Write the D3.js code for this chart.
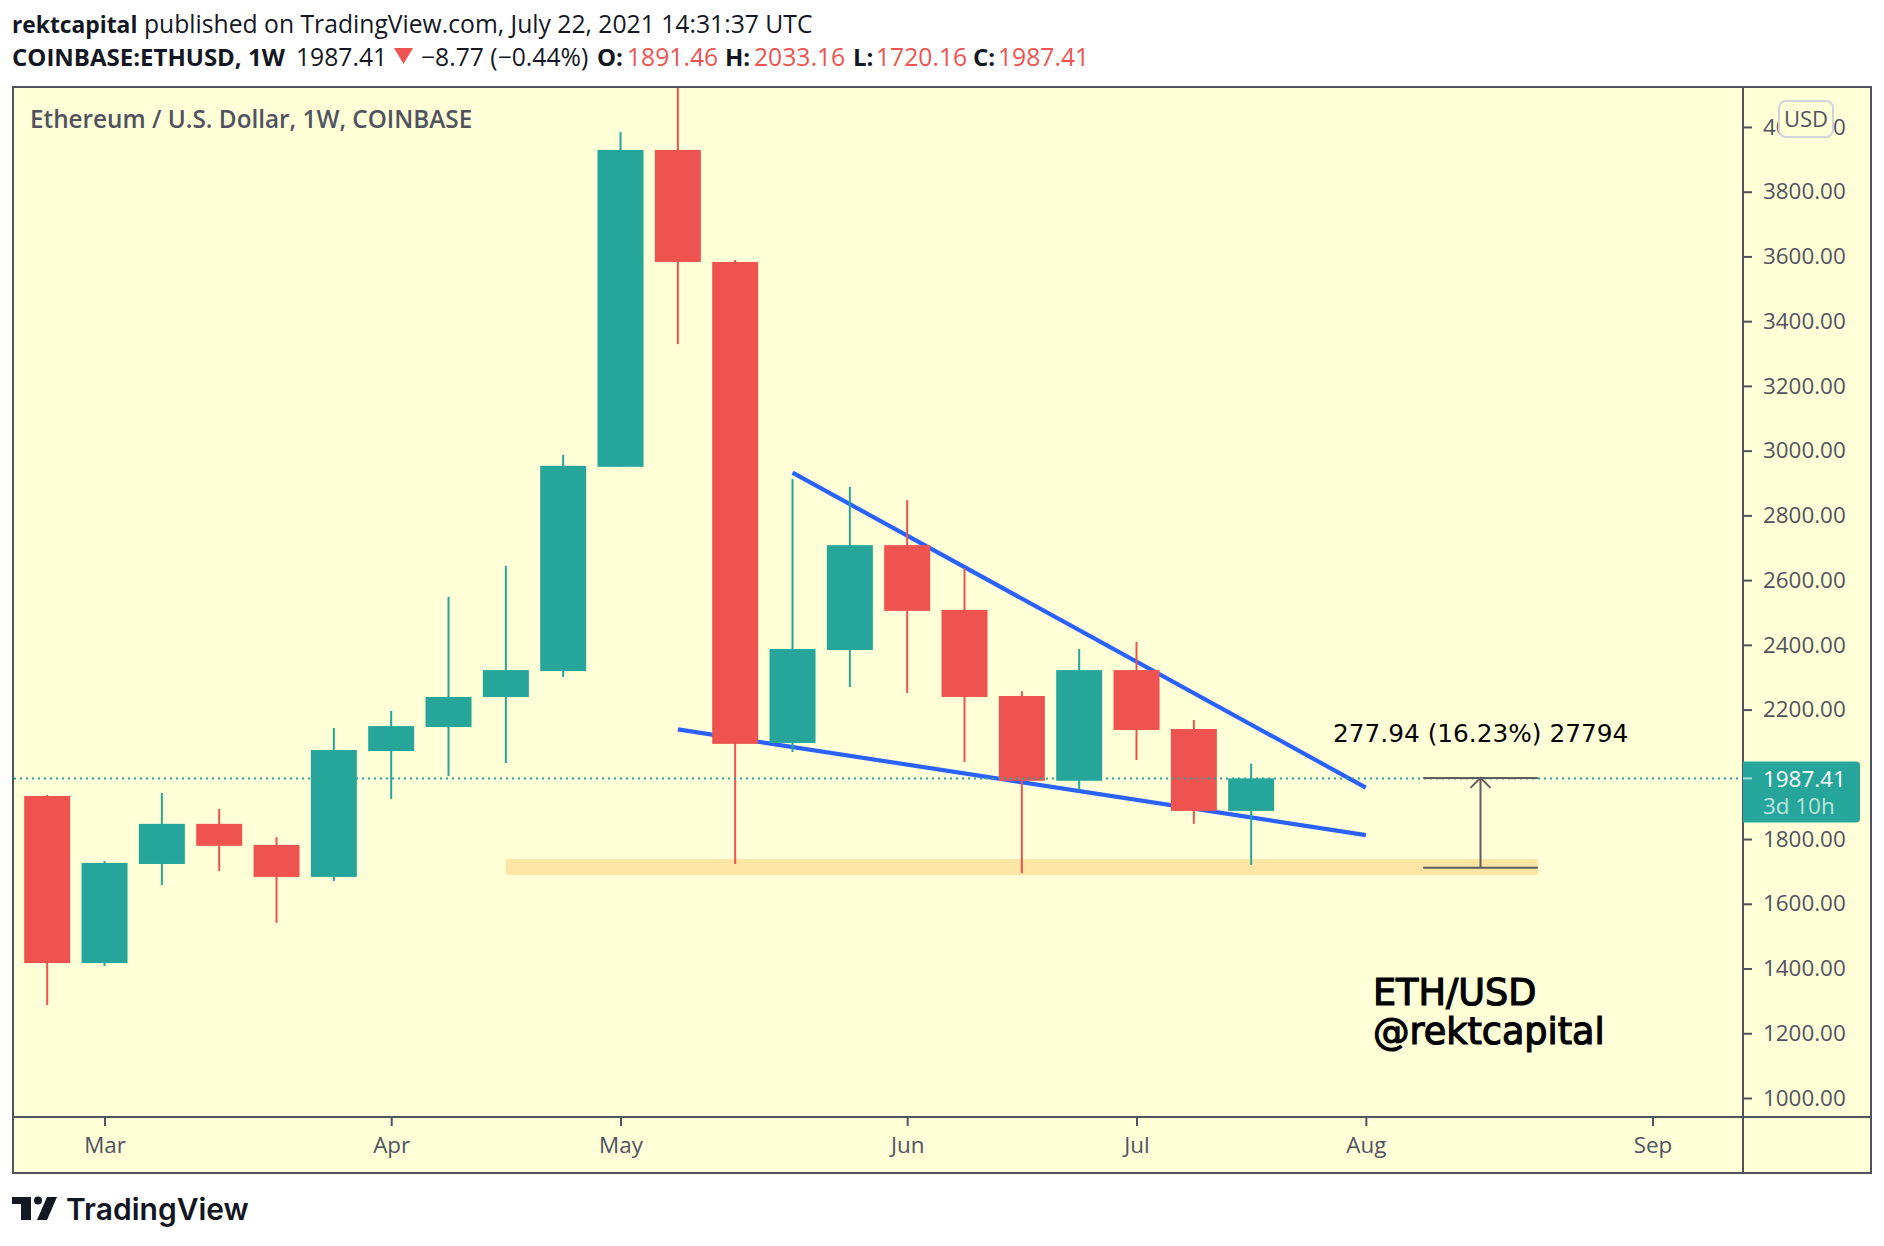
<!DOCTYPE html>
<html>
<head>
<meta charset="utf-8">
<title>ETHUSD 1W</title>
<script src="https://cdn.jsdelivr.net/npm/d3@7"></script>
<style>
    html, body { margin: 0; padding: 0; background: #fff; }
    svg { display: block; }
    text { font-family: "Open Sans", sans-serif; }
    .axis text { font-size: 22.4px; fill: #50535e; }
    .axis line { stroke: #50535e; stroke-width: 2; }
    .axis path { display: none; }
</style>
</head>
<body>
<div id="chart"></div>
<script>
const width = 1884;
const height = 1246;
const plot = { left: 14, top: 87, right: 1743, bottom: 1117, edge: 1871, foot: 1173 };

const green = '#26a69a';
const red = '#ef5350';
const ink = '#131722';
const frame = '#50535e';
const paper = '#ffffd8';

// weekly candles: date, open, high, low, close
const candles = [
    ['2021-02-22', 1933, 1936, 1287, 1417],
    ['2021-03-01', 1417, 1732, 1408, 1726],
    ['2021-03-08', 1723, 1942, 1658, 1847],
    ['2021-03-15', 1847, 1893, 1701, 1779],
    ['2021-03-22', 1782, 1806, 1541, 1683],
    ['2021-03-29', 1683, 2143, 1670, 2075],
    ['2021-04-05', 2072, 2196, 1924, 2149],
    ['2021-04-12', 2146, 2548, 1995, 2239],
    ['2021-04-19', 2239, 2644, 2035, 2322],
    ['2021-04-26', 2319, 2987, 2301, 2953],
    ['2021-05-03', 2950, 3984, 2950, 3929],
    ['2021-05-10', 3929, 4380, 3329, 3583],
    ['2021-05-17', 3583, 3589, 1723, 2094],
    ['2021-05-24', 2097, 2912, 2069, 2387],
    ['2021-05-31', 2384, 2888, 2270, 2708],
    ['2021-06-07', 2708, 2847, 2251, 2505],
    ['2021-06-14', 2508, 2637, 2038, 2239],
    ['2021-06-21', 2242, 2257, 1695, 1980],
    ['2021-06-28', 1980, 2387, 1952, 2322],
    ['2021-07-05', 2322, 2409, 2044, 2137],
    ['2021-07-12', 2140, 2168, 1847, 1887],
    ['2021-07-19', 1887, 2033.16, 1720.16, 1987.41],
];

const parseDate = d3.utcParse('%Y-%m-%d');
const data = candles.map(([date, open, high, low, close]) => ({
    date: parseDate(date), open, high, low, close,
}));

const lastPrice = 1987.41;
const trendLines = [
    [['2021-05-24', 2932], ['2021-08-02', 1959]],
    [['2021-05-10', 2139], ['2021-08-02', 1812]],
];
const band = { from: '2021-04-19', to: '2021-08-23', top: 1738, bottom: 1689 };
const measure = { from: '2021-08-09', to: '2021-08-23', low: 1711, high: 1989 };
const monthTicks = ['2021-03-01', '2021-04-05', '2021-05-03', '2021-06-07', '2021-07-05', '2021-08-02', '2021-09-06'];

const x = d3.scaleUtc()
    .domain([parseDate('2021-02-22'), parseDate('2021-09-06')])
    .range([47.2, 1652.5]);
const y = d3.scaleLinear()
    .domain([1000, 3800])
    .range([1098, 191.7]);

const svg = d3.select('#chart').append('svg')
    .attr('width', width)
    .attr('height', height);

svg.append('defs').append('clipPath').attr('id', 'plot-clip')
    .append('rect')
    .attr('x', plot.left)
    .attr('y', plot.top)
    .attr('width', plot.right - plot.left)
    .attr('height', plot.bottom - plot.top);

svg.append('rect')
    .attr('x', plot.left - 1)
    .attr('y', plot.top)
    .attr('width', plot.edge - plot.left + 1)
    .attr('height', plot.foot - plot.top)
    .attr('fill', paper);

const area = svg.append('g').attr('clip-path', 'url(#plot-clip)');

// support band
area.append('rect')
    .attr('x', x(parseDate(band.from)))
    .attr('width', x(parseDate(band.to)) - x(parseDate(band.from)))
    .attr('y', y(band.top))
    .attr('height', y(band.bottom) - y(band.top))
    .attr('fill', '#fde5a5');

// wedge
const trendPath = d3.line()
    .x((d) => x(parseDate(d[0])))
    .y((d) => y(d[1]));
area.selectAll('.trend')
    .data(trendLines)
    .enter()
    .append('path')
    .attr('class', 'trend')
    .attr('d', trendPath)
    .attr('fill', 'none')
    .attr('stroke', '#2962ff')
    .attr('stroke-width', 4.2);

// candles
const candle = area.selectAll('.candle')
    .data(data)
    .enter()
    .append('g')
    .attr('class', 'candle')
    .attr('fill', (d) => (d.close >= d.open ? green : red));
candle.append('rect')
    .attr('x', (d) => x(d.date) - 1)
    .attr('width', 2)
    .attr('y', (d) => y(d.high))
    .attr('height', (d) => y(d.low) - y(d.high));
candle.append('rect')
    .attr('x', (d) => x(d.date) - 23)
    .attr('width', 46)
    .attr('y', (d) => y(Math.max(d.open, d.close)))
    .attr('height', (d) => y(Math.min(d.open, d.close)) - y(Math.max(d.open, d.close)));

// last price line
area.append('line')
    .attr('x1', plot.left)
    .attr('x2', plot.right)
    .attr('y1', y(lastPrice))
    .attr('y2', y(lastPrice))
    .attr('stroke', green)
    .attr('stroke-width', 2)
    .attr('stroke-dasharray', '2,4');

// price range tool
const mLeft = x(parseDate(measure.from));
const mRight = x(parseDate(measure.to));
const mMid = (mLeft + mRight) / 2;
const tool = area.append('g')
    .attr('stroke', '#5d5d5d')
    .attr('stroke-width', 2)
    .attr('fill', 'none');
[measure.low, measure.high].forEach((v) => {
    tool.append('line')
        .attr('x1', mLeft).attr('x2', mRight)
        .attr('y1', y(v)).attr('y2', y(v));
});
tool.append('line')
    .attr('x1', mMid).attr('x2', mMid)
    .attr('y1', y(measure.low)).attr('y2', y(measure.high));
tool.append('path')
    .attr('d', `M${mMid - 10},${y(measure.high) + 10}L${mMid},${y(measure.high)}L${mMid + 10},${y(measure.high) + 10}`);

svg.append('text')
    .attr('x', 1333)
    .attr('y', 742)
    .attr('fill', '#000')
    .style('font-family', '"DejaVu Sans"')
    .style('font-size', '24.8px')
    .text('277.94 (16.23%) 27794');

[['ETH/USD', 1005], ['@rektcapital', 1044]].forEach(([label, base]) => {
    svg.append('text')
        .attr('x', 1373)
        .attr('y', base)
        .attr('fill', '#000')
        .attr('stroke', '#000')
        .attr('stroke-width', 1.2)
        .style('font-family', '"DejaVu Sans"')
        .style('font-size', '36.6px')
        .text(label);
});

svg.append('text')
    .attr('x', 30)
    .attr('y', 128)
    .attr('fill', frame)
    .style('font-size', '24.3px')
    .style('font-weight', 600)
    .text('Ethereum / U.S. Dollar, 1W, COINBASE');

// axes, the 2000 label sits under the last price tag
svg.append('g')
    .attr('class', 'axis')
    .attr('transform', `translate(${plot.right},0)`)
    .call(d3.axisRight(y)
        .tickValues(d3.range(1000, 4200, 200).filter((v) => v !== 2000))
        .tickSize(9)
        .tickPadding(11)
        .tickFormat(d3.format('.2f')));

svg.append('g')
    .attr('class', 'axis')
    .attr('transform', `translate(0,${plot.bottom})`)
    .call(d3.axisBottom(x)
        .tickValues(monthTicks.map(parseDate))
        .tickSize(9)
        .tickPadding(11)
        .tickFormat(d3.utcFormat('%b')));

// frame
const frameLines = [
    [plot.left - 1, plot.top, plot.edge, plot.top],
    [plot.left - 1, plot.foot, plot.edge, plot.foot],
    [plot.left - 1, plot.top, plot.left - 1, plot.foot],
    [plot.edge, plot.top, plot.edge, plot.foot],
    [plot.right, plot.top, plot.right, plot.foot],
    [plot.left - 1, plot.bottom, plot.edge, plot.bottom],
];
svg.append('g').selectAll('line')
    .data(frameLines)
    .enter()
    .append('line')
    .attr('x1', (d) => d[0])
    .attr('y1', (d) => d[1])
    .attr('x2', (d) => d[2])
    .attr('y2', (d) => d[3])
    .attr('stroke', frame)
    .attr('stroke-width', 2)
    .attr('stroke-linecap', 'square');

// currency badge
svg.append('rect')
    .attr('x', 1779)
    .attr('y', 101)
    .attr('width', 54)
    .attr('height', 36)
    .attr('rx', 7)
    .attr('fill', paper)
    .attr('stroke', '#d1d4dc')
    .attr('stroke-width', 2);
svg.append('text')
    .attr('x', 1806)
    .attr('y', 127)
    .attr('text-anchor', 'middle')
    .attr('fill', frame)
    .style('font-size', '22px')
    .text('USD');

// last price label
svg.append('path')
    .attr('d', `M${plot.right},${y(lastPrice) - 17}H1856a4,4 0 0 1 4,4V${y(lastPrice) + 40}a4,4 0 0 1 -4,4H${plot.right}Z`)
    .attr('fill', green);
svg.append('line')
    .attr('x1', plot.right).attr('x2', plot.right + 9)
    .attr('y1', y(lastPrice)).attr('y2', y(lastPrice))
    .attr('stroke', '#fff').attr('stroke-opacity', 0.6).attr('stroke-width', 2);
svg.append('text')
    .attr('x', 1763)
    .attr('y', 787)
    .attr('fill', '#fff')
    .style('font-size', '22.4px')
    .text('1987.41');
svg.append('text')
    .attr('x', 1763)
    .attr('y', 814)
    .attr('fill', '#fff')
    .attr('fill-opacity', 0.7)
    .style('font-size', '22.4px')
    .text('3d 10h');

// header
const header = svg.append('g').attr('fill', ink);
header.append('text').attr('x', 12).attr('y', 33)
    .style('font-size', '22.8px')
    .style('font-weight', 700)
    .text('rektcapital');
header.append('text').attr('x', 144).attr('y', 33)
    .style('font-size', '24.7px')
    .text('published on TradingView.com, July 22, 2021 14:31:37 UTC');

const line2 = [
    { x: 12, text: 'COINBASE:ETHUSD, 1W', bold: true, size: 24 },
    { x: 296, text: '1987.41' },
    { x: 421, text: '−8.77 (−0.44%)' },
    { x: 597, text: 'O:', bold: true, size: 24 },
    { x: 627, text: '1891.46', fill: red },
    { x: 725, text: 'H:', bold: true, size: 24 },
    { x: 754, text: '2033.16', fill: red },
    { x: 853, text: 'L:', bold: true, size: 24 },
    { x: 876, text: '1720.16', fill: red },
    { x: 973, text: 'C:', bold: true, size: 24 },
    { x: 998, text: '1987.41', fill: red },
];
header.selectAll('.quote')
    .data(line2)
    .enter()
    .append('text')
    .attr('class', 'quote')
    .attr('x', (d) => d.x)
    .attr('y', 66)
    .attr('fill', (d) => d.fill || ink)
    .style('font-size', (d) => `${d.size || 24.7}px`)
    .style('font-weight', (d) => (d.bold ? 700 : 400))
    .text((d) => d.text);
svg.append('path')
    .attr('d', 'M394,48H413L403.5,64Z')
    .attr('fill', red);

// footer logo
const logo = svg.append('g').attr('fill', ink);
logo.append('path').attr('d', 'M12,1197H31V1220H21V1204H12Z');
logo.append('circle').attr('cx', 38).attr('cy', 1200.5).attr('r', 4);
logo.append('path').attr('d', 'M47,1197H57L47,1220H37Z');
svg.append('text')
    .attr('x', 66)
    .attr('y', 1220)
    .attr('fill', ink)
    .style('font-family', 'Inter')
    .style('font-size', '30px')
    .style('font-weight', 600)
    .text('TradingView');
</script>
</body>
</html>
